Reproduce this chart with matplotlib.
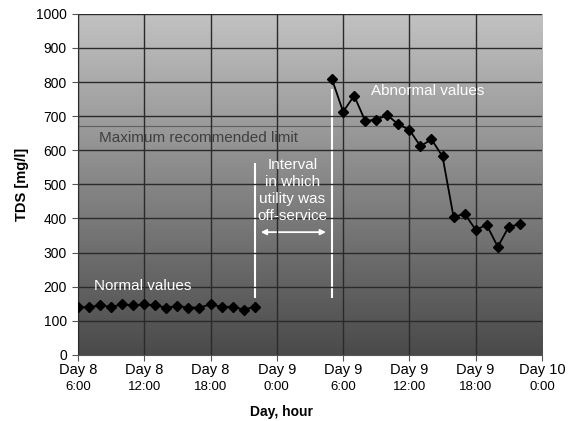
import matplotlib
matplotlib.use("Agg")
import matplotlib.pyplot as plt
import numpy as np
from matplotlib.colors import LinearSegmentedColormap

plt.rcParams['font.family'] = ['Liberation Sans', 'DejaVu Sans']

# hours counted from Day 8 0:00
normal_hours = [6, 7, 8, 9, 10, 11, 12, 13, 14, 15, 16, 17, 18, 19, 20, 21, 22]
normal_tds = [140, 140, 145, 141, 148, 145, 148, 145, 139, 143, 139, 139, 148, 141, 141, 133, 141]
abnormal_hours = [29, 30, 31, 32, 33, 34, 35, 36, 37, 38, 39, 40, 41, 42, 43, 44, 45, 46]
abnormal_tds = [808, 713, 760, 686, 690, 703, 676, 660, 612, 632, 582, 404, 414, 367, 381, 317, 376, 383]
tick_hours = [6, 12, 18, 24, 30, 36, 42, 48]
tick_days = ["Day 8", "Day 8", "Day 8", "Day 9", "Day 9", "Day 9", "Day 9", "Day 10"]
tick_times = ["6:00", "12:00", "18:00", "0:00", "6:00", "12:00", "18:00", "0:00"]
max_limit = 670

fig = plt.figure(figsize=(5.69, 4.21), dpi=100)
ax = fig.add_axes([0.137, 0.157, 0.8155, 0.81])
ax.set_xlim(6, 48)
ax.set_ylim(0, 1000)

cmap = LinearSegmentedColormap.from_list('g', ['#4a4a4a', '#c2c2c2'])
grad = np.linspace(0, 1, 256).reshape(-1, 1)
ax.imshow(grad, cmap=cmap, aspect='auto', extent=[6, 48, 0, 1000], origin='lower', zorder=0)

ax.xaxis.remove_overlapping_locs = False
ax.set_xticks(tick_hours)
ax.set_xticklabels(tick_days, fontsize=10.5)
ax.set_xticks(tick_hours, minor=True)
ax.set_xticklabels(tick_times, minor=True, fontsize=9.5)
ax.set_yticks(range(0, 1001, 100))
ax.tick_params(axis='y', labelsize=10, length=4, width=0.8, color='#555555', pad=4)
ax.tick_params(axis='x', which='major', length=4, width=0.8, color='#555555', pad=2)
ax.tick_params(axis='x', which='minor', length=0, pad=19)
ax.grid(True, which='major', color='#2a2a2a', linewidth=1.0, zorder=1)
ax.set_axisbelow(False)
for s in ['top', 'right']:
    ax.spines[s].set_visible(False)
for s in ['left', 'bottom']:
    ax.spines[s].set_color('#555555')
    ax.spines[s].set_linewidth(0.8)

ax.axhline(max_limit, color='#606060', linewidth=0.8, zorder=1)

ax.plot(normal_hours, normal_tds, color='black', linewidth=1.3, marker='D', markersize=5, zorder=3)
ax.plot(abnormal_hours, abnormal_tds, color='black', linewidth=1.3, marker='D', markersize=5, zorder=3)

ax.vlines([22, 29], [167, 167], [562, 780], colors='white', linewidth=1.5, zorder=2)
ax.annotate('', xy=(22.3, 360), xytext=(28.7, 360),
            arrowprops=dict(arrowstyle='<|-|>', color='white', lw=1.3, mutation_scale=8), zorder=2)

ax.text(16.9, 637, 'Maximum recommended limit', color='#404040', fontsize=11, ha='center', va='center')
ax.text(11.9, 202, 'Normal values', color='white', fontsize=11, ha='center', va='center')
ax.text(37.7, 774, 'Abnormal values', color='white', fontsize=11, ha='center', va='center')
ax.text(25.4, 482, 'Interval\nin which\nutility was\noff-service', color='white', fontsize=11,
        ha='center', va='center', linespacing=1.25)

ax.set_ylabel('TDS [mg/l]', fontsize=10.5, fontweight='bold', labelpad=5)
fig.text(282 / 569, 1 - 412 / 421, 'Day, hour', fontsize=10, fontweight='bold', ha='center', va='center')

fig.canvas.draw()
ax.xaxis.get_gridlines()[-1].set_visible(False)
ax.yaxis.get_gridlines()[0].set_visible(False)

fig.savefig('out.png', dpi=100)
